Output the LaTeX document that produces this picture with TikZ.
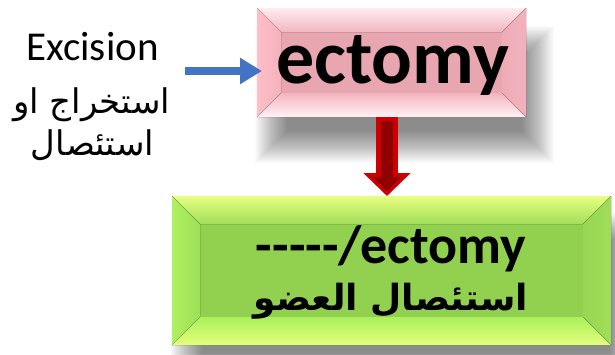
\documentclass[tikz,border=0pt]{standalone}
\usepackage{fontspec}
\setmainfont{Carlito}
\newfontfamily\arabicfont[Script=Arabic]{DejaVu Sans}
\TeXXeTstate=1
\usetikzlibrary{arrows.meta,calc}
\definecolor{pinkc}{RGB}{231,166,176}
\definecolor{pinkt1}{RGB}{255,236,240}
\definecolor{pinkt2}{RGB}{240,182,192}
\definecolor{pinkl1}{RGB}{255,190,200}
\definecolor{pinkl2}{RGB}{244,178,188}
\definecolor{pinkb1}{RGB}{255,242,246}
\definecolor{pinkb2}{RGB}{244,180,190}
\definecolor{pinkr1}{RGB}{242,178,188}
\definecolor{pinkr2}{RGB}{238,172,182}
\definecolor{greenc}{RGB}{146,208,80}
\definecolor{greent1}{RGB}{232,255,130}
\definecolor{greent2}{RGB}{160,222,90}
\definecolor{greenl1}{RGB}{176,240,98}
\definecolor{greenl2}{RGB}{156,224,86}
\definecolor{greenb1}{RGB}{228,255,124}
\definecolor{greenb2}{RGB}{170,240,92}
\definecolor{greenr1}{RGB}{160,222,88}
\definecolor{greenr2}{RGB}{152,214,84}
\definecolor{bluea}{RGB}{68,114,196}
\definecolor{reda}{RGB}{204,0,0}
\definecolor{redd}{RGB}{145,0,0}
\newcommand\mybevel[3]{%
  \path (#1.north west) coordinate (#1nw) (#1.north east) coordinate (#1ne)
        (#1.south west) coordinate (#1sw) (#1.south east) coordinate (#1se)
        ([shift={(#2,#2)}]#1.north west) coordinate (#1inw)
        ([shift={(-#2,#2)}]#1.north east) coordinate (#1ine)
        ([shift={(#2,-#2)}]#1.south west) coordinate (#1isw)
        ([shift={(-#2,-#2)}]#1.south east) coordinate (#1ise);
  \fill[top color=#3t1, bottom color=#3t2] (#1nw) -- (#1ne) -- (#1ine) -- (#1inw) -- cycle;
  \fill[left color=#3l1, right color=#3l2] (#1nw) -- (#1inw) -- (#1isw) -- (#1sw) -- cycle;
  \fill[top color=#3b2, bottom color=#3b1] (#1sw) -- (#1isw) -- (#1ise) -- (#1se) -- cycle;
  \fill[left color=#3r2, right color=#3r1] (#1ne) -- (#1se) -- (#1ise) -- (#1ine) -- cycle;
}
% soft shadow: #1,#2 = nw corner, #3,#4 = se corner of the core rectangle
\newcommand\softshadow[4]{%
  \foreach \k in {-16,...,16}{%
    \fill[black, opacity=0.015] (#1-\k,#2-\k) rectangle (#3+\k,#4+\k);
  }%
}
\newcommand\hy{\hbox{-}}
\begin{document}
\begin{tikzpicture}[x=1pt,y=-1pt,
  box/.style={rectangle, inner sep=0pt, outer sep=0pt},
  latintext/.style={inner sep=0pt, anchor=base, font=\fontsize{41}{41}\selectfont},
  arabictext/.style={inner sep=0pt, anchor=base, font=\arabicfont\fontsize{34}{34}\selectfont},
  bluearrow/.style={draw=bluea, line width=8pt, -{Triangle[length=22pt,width=25pt]}},
  redouter/.style={draw=reda, line width=22pt, -{Triangle[length=23pt,width=46pt]}},
  redinner/.style={draw=redd, line width=12pt, -{Triangle[length=14pt,width=28pt]}}
]
\useasboundingbox (0,0) rectangle (615,354);
\fill[white] (0,0) rectangle (615,354);
% shadows
\softshadow{271}{42}{538}{147}
\softshadow{186}{228}{625}{375}
% boxes
\node[box, fill=pinkc, minimum width=269pt, minimum height=109pt] (pink) at (391.5,62.5) {};
\node[box, fill=greenc, minimum width=439pt, minimum height=149pt] (green) at (391.5,270.5) {};
\mybevel{pink}{24}{pink}
\mybevel{green}{28}{green}
% texts
\node[inner sep=0pt, anchor=base, font=\bfseries\fontsize{76}{76}\selectfont] (ectomy) at (392.5,83) {ectomy};
\node[inner sep=0pt, anchor=base, font=\bfseries\fontsize{54}{54}\selectfont] (suffix) at (391,263) {\hy\hy\hy\hy\hy/ectomy};
\node[inner sep=0pt, anchor=base, font=\arabicfont\bfseries\fontsize{36}{36}\selectfont] (organ) at (391,310) {\beginR استئصال العضو\endR};
\node[latintext] (excision) at (92.5,60) {Excision};
\node[arabictext] (extract) at (91.5,113) {\beginR استخراج او\endR};
\node[arabictext] (remove) at (92.5,155) {\beginR استئصال\endR};
% connectors
\coordinate (bstart) at (185,71);
\draw[bluearrow] (bstart) -- ([xshift=5pt]pink.west |- bstart);
\coordinate (rx) at (387,0);
\draw[redouter] (pink.south -| rx) -- (green.north -| rx);
\draw[redinner] ([yshift=-4pt]pink.south -| rx) -- ([yshift=5pt]green.north -| rx);
\end{tikzpicture}
\end{document}
